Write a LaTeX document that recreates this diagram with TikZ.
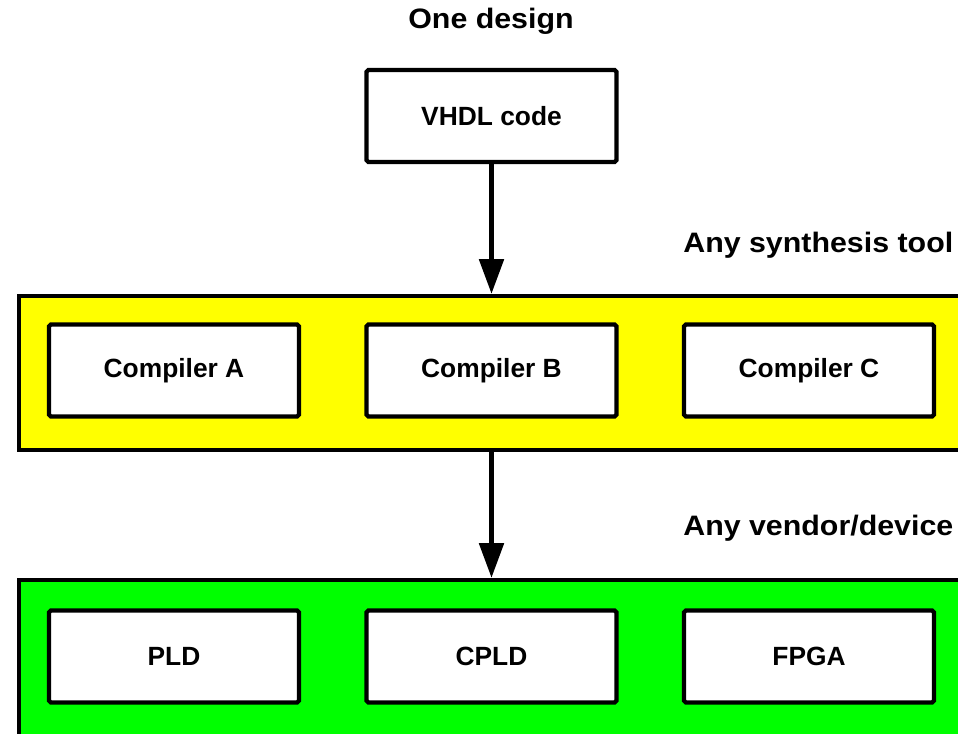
\documentclass[tikz,border=0pt]{standalone}
\usepackage{fontspec}
\setmainfont{Liberation Sans}
\newfontfamily\headfont{Liberation Sans}[FakeStretch=1.08]
\usetikzlibrary{arrows.meta}
\usetikzlibrary{positioning}
\definecolor{bandyellow}{RGB}{255,255,0}
\definecolor{bandgreen}{RGB}{0,255,0}

\begin{document}
\begin{tikzpicture}[
	x=0.02cm, y=-0.02cm,
	> = {Triangle[width=13.6pt,length=19.8pt]},
	box/.style = {draw,line width=2.4pt,rounded corners=1pt,fill=white,minimum width=5cm,minimum height=1.84cm,inner sep=0pt,font=\fontsize{15}{18}\selectfont\bfseries},
	band/.style = {draw,line width=2.4pt,minimum width=19.2cm,inner sep=0pt,anchor=north west},
	head/.style = {inner sep=0pt,font=\headfont\fontsize{16}{19}\selectfont\bfseries},
	flow/.style = {->,line width=3pt}
	]

	\useasboundingbox (0,0) rectangle (958,734);
	\clip (0,0) rectangle (958,734);

	\node[head,anchor=base] (designlbl) at (491,28) {One design};
	\node[box] (vhdl) at (491.5,116) {VHDL code};

	% synthesis stage
	\node[head,anchor=base west] (synthlbl) at (683,252) {Any synthesis tool};
	\node[band,fill=bandyellow,minimum height=3.08cm] (synth) at (17,294) {};
	\node[box] (compA) at (174,370.5) {Compiler A};
	\node[box] (compB) at (491.5,370.5) {Compiler B};
	\node[box] (compC) at (809,370.5) {Compiler C};

	% target devices
	\node[head,anchor=base west] (vendorlbl) at (683,535) {Any vendor/device};
	\node[band,fill=bandgreen,minimum height=3.5cm] (vendor) at (17,578) {};
	\node[box] (pld) at (174,656.5) {PLD};
	\node[box] (cpld) at (491.5,656.5) {CPLD};
	\node[box] (fpga) at (809,656.5) {FPGA};

	\draw[flow] (vhdl.south) -- (vhdl.south |- synth.north);
	\draw[flow] (compB.south |- synth.south) -- (compB.north |- vendor.north);

\end{tikzpicture}
\end{document}
